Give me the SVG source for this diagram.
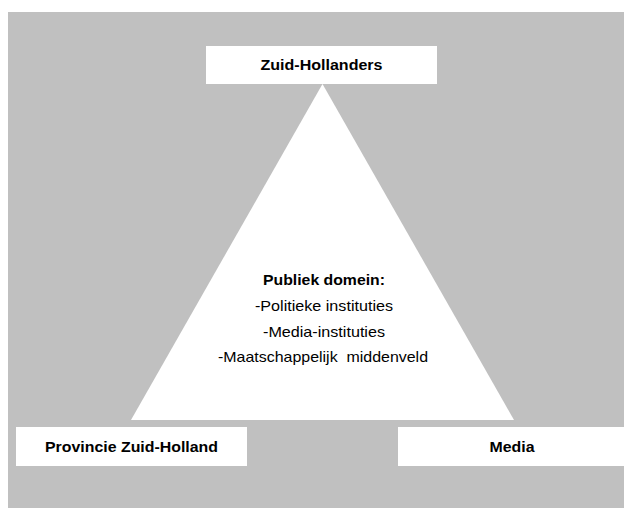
<svg xmlns="http://www.w3.org/2000/svg" width="624" height="508" viewBox="0 0 624 508">
  <style>
    .box { fill: #ffffff; }
    .lbl { font-family: "Liberation Sans", Arial, sans-serif; font-size: 14.5px; fill: #000000; text-anchor: middle; }
    .b { font-weight: bold; }
  </style>
  <rect x="0" y="0" width="624" height="508" fill="#ffffff"/>
  <rect x="8" y="12" width="616" height="496" fill="#c0c0c0"/>

  <g id="publiek-domein">
    <polygon class="box" points="322.5,84 131,420 514,420"/>
    <text class="lbl b" x="324" y="285" textLength="122" lengthAdjust="spacingAndGlyphs">Publiek domein:</text>
    <text class="lbl" x="324" y="311" textLength="138" lengthAdjust="spacingAndGlyphs">-Politieke instituties</text>
    <text class="lbl" x="324" y="337" textLength="122" lengthAdjust="spacingAndGlyphs">-Media-instituties</text>
    <text class="lbl" x="323" y="362" textLength="210" lengthAdjust="spacingAndGlyphs" xml:space="preserve">-Maatschappelijk  middenveld</text>
  </g>

  <g id="zuid-hollanders">
    <rect class="box" x="206" y="46" width="231" height="38"/>
    <text class="lbl b" x="321.5" y="70" textLength="122" lengthAdjust="spacingAndGlyphs">Zuid-Hollanders</text>
  </g>

  <g id="provincie-zuid-holland">
    <rect class="box" x="16" y="427" width="231" height="39"/>
    <text class="lbl b" x="131.5" y="452" textLength="173" lengthAdjust="spacingAndGlyphs">Provincie Zuid-Holland</text>
  </g>

  <g id="media">
    <rect class="box" x="398" y="427" width="228" height="39"/>
    <text class="lbl b" x="512" y="452" textLength="45" lengthAdjust="spacingAndGlyphs">Media</text>
  </g>

  <g id="connectors"></g>
</svg>
